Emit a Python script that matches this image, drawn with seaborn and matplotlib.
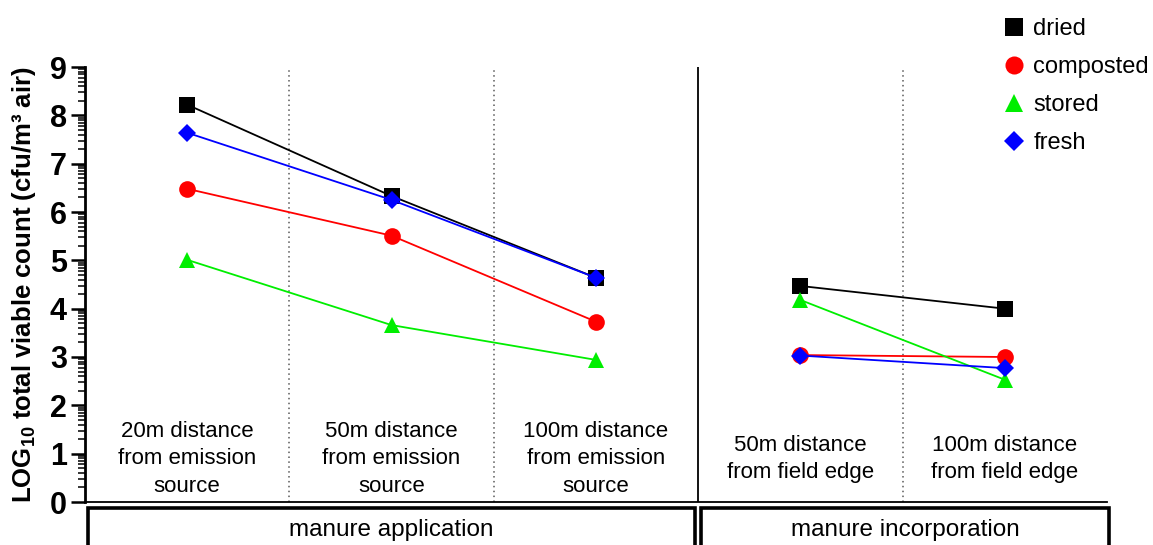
import numpy as np
import pandas as pd
import matplotlib.pyplot as plt
import matplotlib.transforms as mtransforms
import seaborn as sns
from matplotlib.lines import Line2D
from matplotlib.patches import Rectangle
from matplotlib.ticker import FixedLocator

# sampling sites (x categories) and the two phases
site_labels = [
    "20m distance\nfrom emission\nsource",
    "50m distance\nfrom emission\nsource",
    "100m distance\nfrom emission\nsource",
    "50m distance\nfrom field edge",
    "100m distance\nfrom field edge",
]
site_phase = ["manure application"] * 3 + ["manure incorporation"] * 2
phases = ["manure application", "manure incorporation"]

# LOG10 total viable count per manure type
treatments = ["dried", "composted", "stored", "fresh"]
dried = [8.22, 6.33, 4.64, 4.47, 4.00]
composted = [6.48, 5.51, 3.73, 3.04, 3.00]
stored = [5.01, 3.66, 2.94, 4.18, 2.53]
fresh = [7.64, 6.25, 4.64, 3.03, 2.77]

colors = {"dried": "black", "composted": "#ff0000", "stored": "#00ee00", "fresh": "#0000ff"}
markers = {"dried": "s", "composted": "o", "stored": "^", "fresh": "D"}
msize = {"dried": 12, "composted": 12, "stored": 12, "fresh": 9}

values = {"dried": dried, "composted": composted, "stored": stored, "fresh": fresh}
rows = []
for t in treatments:
    for i, v in enumerate(values[t]):
        rows.append({"treatment": t, "pos": i + 0.5, "phase": site_phase[i], "value": v})
df = pd.DataFrame(rows)

sns.set_style("ticks", {"text.color": "black", "axes.labelcolor": "black",
                        "axes.edgecolor": "black", "ytick.color": "black", "xtick.color": "black"})
plt.rcParams["font.family"] = ["Liberation Sans", "DejaVu Sans"]
plt.rcParams["mathtext.fontset"] = "custom"
plt.rcParams["mathtext.rm"] = "Liberation Sans"
plt.rcParams["mathtext.bf"] = "Liberation Sans:bold"

fig = plt.figure(figsize=(11.53, 5.45), dpi=100)
ax = fig.add_axes([85 / 1153, 43 / 545, 1022 / 1153, 435 / 545])

# separators between sites
for xv in [1, 2, 4]:
    ax.axvline(xv, color="0.35", lw=1.1, ls=(0, (1, 2.2)), zorder=1)
ax.axvline(3, color="black", lw=1.3, zorder=1)

for t in treatments:
    sub = df[df["treatment"] == t]
    sns.lineplot(
        data=sub, x="pos", y="value", units="phase", estimator=None,
        color=colors[t], marker=markers[t], markersize=msize[t],
        markeredgewidth=0, linewidth=1.3, legend=False, ax=ax, zorder=3,
    )

ax.set_xlim(0, 5)
ax.set_ylim(0, 9)
ax.set_xticks([])
ax.set_xlabel("")
ax.set_yticks(range(10))
ax.yaxis.set_minor_locator(FixedLocator([n + np.log10(k) for n in range(9) for k in range(2, 10)]))
ax.tick_params(axis="y", which="major", length=10, width=1.8, labelsize=22, pad=3, colors="black")
ax.tick_params(axis="y", which="minor", length=5, width=1.1, colors="black")
for lab in ax.get_yticklabels():
    lab.set_fontweight("bold")
sns.despine(ax=ax)
ax.spines["left"].set_linewidth(2)
ax.spines["bottom"].set_linewidth(1.3)

ax.set_ylabel(r"LOG$_\mathbf{10}$ total viable count (cfu/m³ air)", fontsize=18.5,
              fontweight="bold", color="black")
ax.yaxis.set_label_coords(-0.046, 0.5)

# site labels inside the plot
for i, lab in enumerate(site_labels):
    ax.text(i + 0.5, 0.89, lab, ha="center", va="center", fontsize=16, linespacing=1.4,
            color="black")

# phase boxes below the axis
trans = mtransforms.blended_transform_factory(ax.transData, ax.transAxes)
box_spans = {"manure application": (0.015, 2.985), "manure incorporation": (3.015, 5.008)}
for ph in phases:
    x0, x1 = box_spans[ph]
    ax.add_patch(Rectangle((x0, -0.3), x1 - x0, 0.3 - 0.0138, fill=False, lw=2.6,
                           edgecolor="black", transform=trans, clip_on=False))
    ax.text((x0 + x1) / 2, -0.064, ph, transform=trans, ha="center", va="center",
            fontsize=17.5, color="black")

handles = [Line2D([], [], ls="none", marker=markers[t], color=colors[t], markersize=msize[t] + 1,
                  markeredgewidth=0, label=t) for t in treatments]
fig.legend(handles=handles, loc="upper left", bbox_to_anchor=(1005 / 1153, 1 - 18 / 545),
           frameon=False, fontsize=17, handlelength=0.8, handletextpad=0.4,
           labelspacing=0.68, borderpad=0, borderaxespad=0, labelcolor="black")

fig.savefig("out.png", dpi=100)
